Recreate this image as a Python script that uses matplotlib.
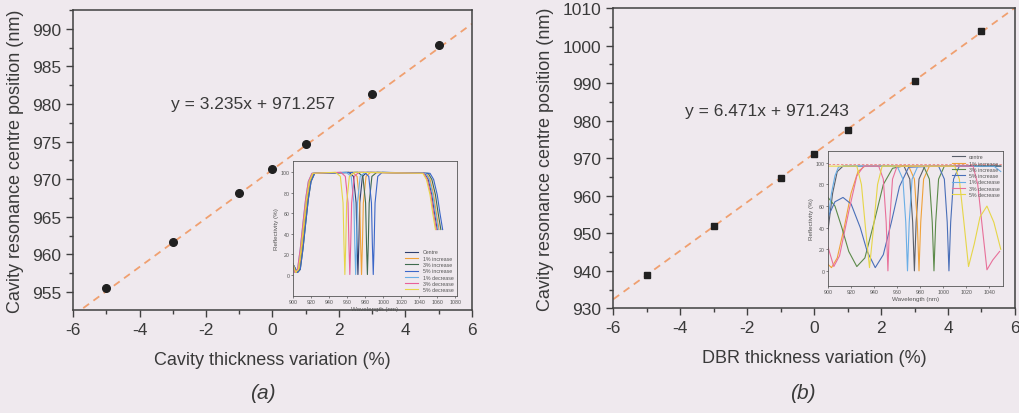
import numpy as np
import matplotlib
matplotlib.use("Agg")
import matplotlib.pyplot as plt
from matplotlib.ticker import MultipleLocator

plt.rcParams['font.family'] = ['Liberation Sans', 'DejaVu Sans']
plt.rcParams['axes.unicode_minus'] = False

#---------------------------------------------------------------------
# data
#---------------------------------------------------------------------
variation = [-5, -3, -1, 0, 1, 3, 5]
centre_a = [955.5, 961.7, 968.1, 971.3, 974.7, 981.3, 987.9]
centre_b = [939.0, 951.8, 964.6, 971.1, 977.6, 990.6, 1003.8]
fit_a = (3.235, 971.257)
fit_b = (6.471, 971.243)

labels_a = ['Centre', '1% increase', '3% increase', '5% increase',
            '1% decrease', '3% decrease', '5% decrease']
labels_b = ['centre', '1% increase', '3% increase', '5% increase',
            '1% decrease', '3% decrease', '5% decrease']
colors_a = ['#2f3f6e', '#f0a23a', '#3f6b4e', '#3b67c8', '#6aaee6', '#e8609a', '#e6d648']
colors_b = ['#5a5f6a', '#f0a23a', '#5c8a4a', '#4a6fb8', '#6aaee6', '#e8709a', '#e6d648']
refl_ticks = [0, 20, 40, 60, 80, 100]

# inset (a): reflectivity spectra, all share one read shape
refl_a = [10, 2, 5, 25, 50, 74, 91, 99, 100, 96, 70, 30, 0, 30, 70, 96, 100, 99, 93, 78, 60, 44]
wl_a = [
    [900, 903, 906, 909, 912, 915, 918, 922, 962, 967, 970, 971, 972, 973, 974, 977, 982, 1046, 1050, 1054, 1057, 1060],
    [900, 904, 907, 910, 913, 916, 919, 923, 966, 971, 974, 975, 976, 977, 978, 981, 986, 1048, 1052, 1056, 1059, 1062],
    [900, 905, 908, 911, 914, 917, 920, 924, 972, 977.5, 980.5, 981.5, 982.5, 983.5, 984.5, 987.5, 993, 1050, 1054, 1058, 1061, 1064],
    [900, 905, 908, 911, 914, 917, 920, 924, 979, 984, 987, 988, 989, 990, 991, 994, 999, 1052, 1056, 1060, 1063, 1066],
    [900, 902, 905, 908, 911, 914, 917, 921, 959, 964.5, 967.5, 968.5, 969.5, 970.5, 971.5, 974.5, 980, 1047, 1051, 1055, 1058, 1061],
    [900, 902, 905, 908, 911, 914, 917, 921, 953, 958, 961, 962, 963, 964, 965, 968, 973, 1045, 1049, 1053, 1056, 1059],
    [900, 903, 906, 909, 912, 915, 918, 922, 947, 952.5, 955.5, 956.5, 957.5, 958.5, 959.5, 962.5, 968, 1044, 1048, 1052, 1055, 1058],
]

# inset (b): reflectivity spectra
wl_b = [
    [900, 904, 908, 913, 966, 971, 973.5, 975, 976.5, 979, 984, 1050],
    [900, 903, 908, 914, 920, 926, 932, 970, 975, 977.5, 979, 980.5, 983, 988, 1050],
    [900, 906, 912, 918, 925, 932, 940, 948, 956, 965, 983, 988, 990.5, 992, 993.5, 996, 1001, 1050],
    [900, 906, 913, 920, 928, 934, 941, 948, 955, 962, 970, 996, 1001, 1003.5, 1005, 1006.5, 1009, 1014, 1050],
    [900, 903, 906, 909, 913, 960, 965, 967.5, 969, 970.5, 973, 978, 1044, 1050],
    [900, 905, 910, 918, 925, 931, 944, 948, 950.5, 952, 953.5, 956, 960, 1026, 1030, 1034, 1038, 1043, 1049],
    [900, 925, 929, 932.5, 936, 939.5, 943, 947, 1010, 1014, 1018, 1022, 1027, 1032, 1038, 1044, 1050],
]
refl_b = [
    [38, 72, 92, 97, 97, 85, 45, 0, 45, 85, 97, 97],
    [6, 3, 12, 40, 72, 92, 97, 97, 85, 45, 0, 45, 85, 97, 97],
    [68, 60, 40, 18, 4, 12, 45, 80, 95, 97, 97, 85, 45, 0, 45, 85, 97, 97],
    [50, 64, 68, 62, 40, 18, 3, 15, 45, 78, 96, 97, 85, 45, 0, 45, 85, 97, 97],
    [48, 72, 88, 96, 97, 97, 85, 45, 0, 45, 85, 97, 97, 92],
    [22, 4, 14, 55, 88, 97, 97, 85, 45, 0, 45, 85, 97, 97, 80, 40, 1, 10, 18],
    [97, 97, 80, 40, 3, 40, 80, 97, 97, 85, 45, 4, 25, 50, 60, 45, 20],
]
ref_level_b = 99

#---------------------------------------------------------------------
bg = '#efe9ee'
txt = '#3a3a3a'
spine = '#404040'

fig = plt.figure(figsize=(10.2, 4.14), dpi=100, facecolor=bg)

def style_main(ax):
    ax.set_facecolor(bg)
    for s in ax.spines.values():
        s.set_color(spine)
        s.set_linewidth(1.1)
    ax.tick_params(which='both', direction='out', colors=spine, labelcolor=txt,
                   labelsize=12.5, width=1.0, top=False, right=False)
    ax.tick_params(which='major', length=5)
    ax.tick_params(which='minor', length=3)
    ax.set_xlim(-6, 6)
    ax.xaxis.set_major_locator(MultipleLocator(2))
    ax.xaxis.set_minor_locator(MultipleLocator(1))

def style_inset(ax, xlim, ylim, xstep):
    ax.set_facecolor(bg)
    for s in ax.spines.values():
        s.set_color('#555555')
        s.set_linewidth(0.6)
    ax.set_xlim(*xlim)
    ax.set_ylim(*ylim)
    ax.xaxis.set_major_locator(MultipleLocator(xstep))
    ax.set_yticks(refl_ticks)
    ax.tick_params(direction='out', length=1.5, width=0.5, labelsize=3.8,
                   colors='#555555', labelcolor='#555555', pad=1)
    ax.set_xlabel('Wavelength (nm)', fontsize=4.5, color='#555555', labelpad=1)
    ax.set_ylabel('Reflectivity (%)', fontsize=4.5, color='#555555', labelpad=1)

# ---- panel (a)
ax1 = fig.add_axes([0.0716, 0.249, 0.3911, 0.7244])
style_main(ax1)
ax1.set_ylim(952.6, 992.5)
ax1.yaxis.set_major_locator(MultipleLocator(5))
ax1.yaxis.set_minor_locator(MultipleLocator(2.5))
xx = np.array([-6, 6])
ax1.plot(xx, fit_a[0] * xx + fit_a[1], ls=(0, (4, 3)), color='#f0a070', lw=1.3, zorder=2)
ax1.plot(variation, centre_a, 'o', color='#202020', ms=5.5, zorder=3)
ax1.text(-0.59, 980.0, 'y = 3.235x + 971.257', ha='center', va='center', fontsize=12.5, color=txt)
ax1.set_xlabel('Cavity thickness variation (%)', fontsize=13, color=txt, labelpad=10)
ax1.set_ylabel('Cavity resonance centre position (nm)', fontsize=13, color=txt, labelpad=6)
fig.text(0.258, 0.05, '(a)', fontsize=15, style='italic', color=txt, ha='center', va='center')

in1 = fig.add_axes([0.2873, 0.2826, 0.1608, 0.326])
style_inset(in1, (900, 1082), (-21, 111), 20)
for w, c, lab in zip(wl_a, colors_a, labels_a):
    in1.plot(w, refl_a, color=c, lw=0.8, label=lab)
in1.legend(loc='lower right', fontsize=3.8, frameon=False, handlelength=2.5,
           labelspacing=0.25, borderaxespad=0.3, labelcolor='#555555')

# ---- panel (b)
ax2 = fig.add_axes([0.6013, 0.2529, 0.3937, 0.7251])
style_main(ax2)
ax2.set_ylim(930, 1010)
ax2.yaxis.set_major_locator(MultipleLocator(10))
ax2.yaxis.set_minor_locator(MultipleLocator(5))
ax2.plot(xx, fit_b[0] * xx + fit_b[1], ls=(0, (4, 3)), color='#f0a070', lw=1.3, zorder=2)
ax2.plot(variation, centre_b, 's', color='#202020', ms=5, zorder=3)
ax2.text(-1.41, 982.8, 'y = 6.471x + 971.243', ha='center', va='center', fontsize=12.5, color=txt)
ax2.set_xlabel('DBR thickness variation (%)', fontsize=13, color=txt, labelpad=10)
ax2.set_ylabel('Cavity resonance centre position (nm)', fontsize=13, color=txt, labelpad=6)
fig.text(0.787, 0.05, '(b)', fontsize=15, style='italic', color=txt, ha='center', va='center')

in2 = fig.add_axes([0.8118, 0.3068, 0.1716, 0.326])
style_inset(in2, (900, 1052), (-14, 111), 20)
in2.axhline(ref_level_b, color='#f08080', lw=0.6, ls=(0, (3, 2)))
for w, r, c, lab in zip(wl_b, refl_b, colors_b, labels_b):
    in2.plot(w, r, color=c, lw=0.8, label=lab)
in2.legend(loc='upper right', fontsize=3.8, frameon=False, handlelength=2.5,
           labelspacing=0.25, borderaxespad=0.2, labelcolor='#555555')

fig.savefig('out.png', dpi=100, facecolor=bg)
